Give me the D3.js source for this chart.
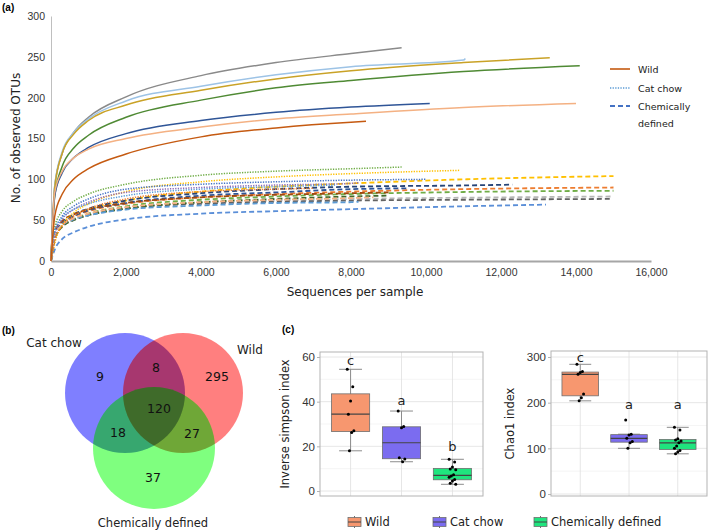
<!DOCTYPE html>
<html>
<head>
<meta charset="utf-8">
<script src="https://cdn.jsdelivr.net/npm/d3@7"></script>
<style>
body { margin: 0; background: #fff; }
svg { font-family: "DejaVu Sans", Verdana, sans-serif; }
</style>
</head>
<body>
<svg id="fig" width="709" height="532"></svg>
<script>
// ---- panel (a): rarefaction curves ----
const depths = [0, 100, 300, 600, 1000, 2000, 4000, 6000, 8000, 11000];
const xTicks = [0, 2000, 4000, 6000, 8000, 10000, 12000, 14000, 16000];
const yTicks = [0, 50, 100, 150, 200, 250, 300];

// y = observed OTUs at each depth below `end`, last value is at `end`
const wildCurves = [
    { color: "#8a8a8a", end: 9350,  y: [0, 92, 132, 157, 176, 201, 227, 243, 254, 261] },
    { color: "#9dc3e6", end: 11050, y: [0, 92, 134, 157, 174, 196, 214, 228, 238, 246, 248] },
    { color: "#c9a227", end: 13300, y: [0, 90, 132, 155, 172, 191, 209, 223, 233, 243, 249] },
    { color: "#4f8a34", end: 14100, y: [0, 80, 116, 138, 154, 176, 197, 212, 221, 232, 239] },
    { color: "#2f5597", end: 10100, y: [0, 80, 108, 126, 139, 156, 172, 182, 188.5, 193] },
    { color: "#f4b183", end: 14000, y: [0, 84, 110, 126, 137, 150, 164, 174, 180, 188, 193] },
    { color: "#c55a11", end: 8400,  y: [0, 55, 82, 100, 113, 131, 152, 163, 170, 171] }
];
const catCurves = [
    { color: "#70ad47", end: 9350,  y: [0, 42, 61, 73, 82, 94, 105, 110, 113, 115] },
    { color: "#ffc000", end: 10900, y: [0, 22, 44, 59, 70, 85, 97, 103, 107, 111] },
    { color: "#4472c4", end: 10000, y: [0, 36, 55, 67, 76, 88, 94, 97, 99, 100] },
    { color: "#8e6bb8", end: 8200,  y: [0, 32, 51, 63, 72, 84, 90, 93, 95, 96] },
    { color: "#5b9bd5", end: 7600,  y: [0, 37, 53, 63, 70, 80, 88, 91, 93] },
    { color: "#ed7d31", end: 7000,  y: [0, 24, 43, 55, 64, 76, 85, 88, 89] }
];
const chemCurves = [
    { color: "#ffc000", end: 15000, y: [0, 26, 44, 55, 63, 74, 85, 91, 95, 100, 104] },
    { color: "#264478", end: 12300, y: [0, 31, 47, 57, 64, 74, 83, 88, 91, 92.5, 93.5] },
    { color: "#ed7d31", end: 15000, y: [0, 31, 45, 54, 61, 70, 78, 82, 85, 88, 90] },
    { color: "#70ad47", end: 15000, y: [0, 28, 42, 51, 58, 67, 75, 79, 82, 84.5, 86] },
    { color: "#b7b7b7", end: 15000, y: [0, 29, 42, 50, 56, 64, 71, 74, 76, 77.5, 79] },
    { color: "#636363", end: 14900, y: [0, 30, 43, 51, 57, 65, 70, 72.5, 74, 75, 76] },
    { color: "#5b8fd8", end: 13200, y: [0, 14, 27, 35, 42, 51, 58, 61, 63.5, 67, 69] },
    { color: "#2f5597", end: 9500,  y: [0, 32, 46, 55, 62, 71, 80, 84, 88, 89] },
    { color: "#9e480e", end: 9000,  y: [0, 36, 49, 57, 63, 71, 78, 81, 83, 84] },
    { color: "#43682b", end: 9000,  y: [0, 29, 42, 50, 56, 64, 72, 76, 79, 80] },
    { color: "#5b9bd5", end: 8200,  y: [0, 33, 44, 51, 56, 63, 68, 71, 72, 72.5] },
    { color: "#f4b183", end: 8600,  y: [0, 31, 44, 52, 58, 66, 72, 75, 77, 78] }
];
const curveLegend = ["Wild", "Cat chow", "Chemically defined"];

// ---- panel (b): venn ----
const vennSets = ["Cat chow", "Wild", "Chemically defined"];
const vennCounts = [9, 8, 295, 120, 18, 27, 37];

// ---- panel (c): boxplots ----
const groups = ["Wild", "Cat chow", "Chemically defined"];
const simpsonWild = [54.5, 46.7, 40.3, 34.4, 27.0, 26.2, 18.0];
const simpsonCat = [35.8, 28.9, 28.3, 14.9, 14.3, 13.1];
const simpsonChem = [14.2, 13.0, 10.8, 9.9, 9.5, 7.3, 6.7, 6.2, 5.2, 4.5, 3.5, 3.0];
const simpsonLetters = ["c", "a", "b"];
const simpsonLetterY = [58.5, 40.5, 20];
const simpsonTicks = [0, 20, 40, 60];
const chaoWild = [284, 268, 266, 262, 219, 211, 204];
const chaoCat = [162, 131, 129, 122, 115, 112, 100];
const chaoChem = [146, 140, 121, 118, 116, 112, 105, 100, 95, 92, 88];
const chaoLetters = ["c", "a", "a"];
const chaoLetterY = [299, 197, 197];
const chaoTicks = [0, 100, 200, 300];

const svg = d3.select("#fig");

// panel labels
[["(a)", 2, 11], ["(b)", 2, 334], ["(c)", 282, 333]].forEach(p => {
    svg.append("text").attr("x", p[1]).attr("y", p[2])
        .attr("font-family", "Liberation Sans, Arial, sans-serif")
        .attr("font-weight", "bold").attr("font-size", 10).text(p[0]);
});

// ================= (a) =================
const xA = d3.scaleLinear().domain([0, 16000]).range([51, 651]);
const yA = d3.scaleLinear().domain([0, 300]).range([261, 16]);

const yAxisA = svg.append("g").attr("transform", "translate(51,0)")
    .call(d3.axisLeft(yA).tickValues(yTicks).tickSize(0).tickPadding(6));
yAxisA.select(".domain").attr("stroke", "#bfbfbf").attr("stroke-width", 1);
yAxisA.selectAll("text").attr("font-size", 10.5).attr("fill", "#333").attr("font-family", null);

const xAxisA = svg.append("g").attr("transform", "translate(0,261)")
    .call(d3.axisBottom(xA).tickValues(xTicks).tickSize(0).tickPadding(8).tickFormat(d3.format(",")));
xAxisA.select(".domain").attr("stroke", "#a6a6a6").attr("stroke-width", 2);
xAxisA.selectAll("text").attr("font-size", 10.5).attr("fill", "#333").attr("font-family", null);

svg.append("text").attr("x", 355).attr("y", 296).attr("text-anchor", "middle")
    .attr("font-size", 12).attr("fill", "#222").text("Sequences per sample");
svg.append("text").attr("transform", "translate(20,138) rotate(-90)").attr("text-anchor", "middle")
    .attr("font-size", 12).attr("fill", "#222").text("No. of observed OTUs");

const line = d3.line().x(d => xA(d[0])).y(d => yA(d[1])).curve(d3.curveMonotoneX);
function curvePoints(c) {
    const xs = depths.filter(d => d < c.end).concat(c.end);
    return xs.map((x, i) => [x, c.y[i]]);
}
const curveGroups = [
    { list: chemCurves, dash: "5,3", width: 1.8 },
    { list: catCurves, dash: "1.3,1.3", width: 1.5 },
    { list: wildCurves, dash: null, width: 1.5 }
];
curveGroups.forEach(g => {
    svg.append("g").selectAll("path").data(g.list).enter().append("path")
        .attr("d", c => line(curvePoints(c)))
        .attr("fill", "none")
        .attr("stroke", c => c.color)
        .attr("stroke-width", g.width)
        .attr("stroke-dasharray", g.dash);
});

// legend (a)
const legA = [
    { color: "#c55a11", dash: null, width: 1.6 },
    { color: "#5b9bd5", dash: "1.3,1.3", width: 1.5 },
    { color: "#4472c4", dash: "5,3", width: 1.8 }
];
const legAY = [69, 88, 106];
legA.forEach((l, i) => {
    svg.append("line").attr("x1", 610).attr("x2", 630).attr("y1", legAY[i]).attr("y2", legAY[i])
        .attr("stroke", l.color).attr("stroke-width", l.width).attr("stroke-dasharray", l.dash);
});
svg.append("text").attr("x", 638).attr("y", 72.5).attr("font-size", 9.5).attr("fill", "#222").text(curveLegend[0]);
svg.append("text").attr("x", 638).attr("y", 91.5).attr("font-size", 9.5).attr("fill", "#222").text(curveLegend[1]);
svg.append("text").attr("x", 638).attr("y", 109.5).attr("font-size", 9.5).attr("fill", "#222").text("Chemically");
svg.append("text").attr("x", 638).attr("y", 126.5).attr("font-size", 9.5).attr("fill", "#222").text("defined");

// ================= (b) =================
const vennCircles = [
    { cx: 125, cy: 393, r: 60, color: "#0000ff" },
    { cx: 183, cy: 393, r: 60, color: "#ff0000" },
    { cx: 154, cy: 448, r: 61, color: "#00ff00" }
];
const defs = svg.append("defs");
vennCircles.forEach((c, i) => {
    defs.append("clipPath").attr("id", "vc" + i)
        .append("circle").attr("cx", c.cx).attr("cy", c.cy).attr("r", c.r);
});
svg.append("g").selectAll("circle").data(vennCircles).enter().append("circle")
    .attr("cx", d => d.cx).attr("cy", d => d.cy).attr("r", d => d.r)
    .attr("fill", d => d.color).attr("fill-opacity", 0.5);
// darken the overlaps a little
[[0, 1], [0, 2], [1, 2]].forEach(p => {
    const c = vennCircles[p[1]];
    svg.append("circle").attr("clip-path", `url(#vc${p[0]})`)
        .attr("cx", c.cx).attr("cy", c.cy).attr("r", c.r)
        .attr("fill", "#000").attr("fill-opacity", 0.12);
});
const vennPos = [[100, 376], [156, 367], [217, 376], [159, 408], [118, 432], [192, 433], [153, 477]];
svg.append("g").selectAll("text").data(vennCounts).enter().append("text")
    .attr("x", (d, i) => vennPos[i][0]).attr("y", (d, i) => vennPos[i][1])
    .attr("dy", "0.36em").attr("text-anchor", "middle")
    .attr("font-size", 12.5).attr("fill", "#111").text(d => d);
svg.append("text").attr("x", 54).attr("y", 347).attr("text-anchor", "middle")
    .attr("font-size", 12).attr("fill", "#222").text(vennSets[0]);
svg.append("text").attr("x", 237).attr("y", 354).attr("text-anchor", "start")
    .attr("font-size", 12).attr("fill", "#222").text(vennSets[1]);
svg.append("text").attr("x", 153).attr("y", 527).attr("text-anchor", "middle")
    .attr("font-size", 11.5).attr("fill", "#222").text(vennSets[2]);

// ================= (c) =================
const boxFill = ["#f7976f", "#7b6cf0", "#1fe57e"];

function boxPanel(o) {
    const g = svg.append("g");
    const x = d3.scalePoint().domain(groups).range([o.x0, o.x1]).padding(0.6);
    const y = d3.scaleLinear().domain(o.yDomain).range(o.yRange);
    const step = x.step();

    // grid
    const minor = o.ticks.slice(0, -1).map((t, i) => (t + o.ticks[i + 1]) / 2);
    g.selectAll(".minor").data(minor).enter().append("line")
        .attr("x1", o.x0).attr("x2", o.x1).attr("y1", d => y(d)).attr("y2", d => y(d))
        .attr("stroke", "#efefef").attr("stroke-width", 0.6);
    g.selectAll(".major").data(o.ticks).enter().append("line")
        .attr("x1", o.x0).attr("x2", o.x1).attr("y1", d => y(d)).attr("y2", d => y(d))
        .attr("stroke", "#e0e0e0").attr("stroke-width", 0.8);
    g.selectAll(".vmajor").data(groups).enter().append("line")
        .attr("x1", d => x(d)).attr("x2", d => x(d)).attr("y1", o.yTop).attr("y2", o.yBottom)
        .attr("stroke", "#e0e0e0").attr("stroke-width", 0.8);

    // y axis
    const ax = g.append("g").attr("transform", `translate(${o.x0},0)`)
        .call(d3.axisLeft(y).tickValues(o.ticks).tickSize(3).tickPadding(2));
    ax.select(".domain").remove();
    ax.selectAll("line").attr("stroke", "#b3b3b3");
    ax.selectAll("text").attr("font-size", 11.5).attr("fill", "#333").attr("font-family", null);
    g.append("text").attr("transform", `translate(${o.titleX},${(o.yTop + o.yBottom) / 2}) rotate(-90)`)
        .attr("text-anchor", "middle").attr("font-size", 11.5).attr("fill", "#222").text(o.title);

    o.data.forEach((vals, gi) => {
        const s = vals.slice().sort(d3.ascending);
        const q1 = d3.quantile(s, 0.25), med = d3.quantile(s, 0.5), q3 = d3.quantile(s, 0.75);
        const iqr = q3 - q1;
        const lo = d3.min(s.filter(v => v >= q1 - 1.5 * iqr));
        const hi = d3.max(s.filter(v => v <= q3 + 1.5 * iqr));
        const cx = x(groups[gi]);
        const bw = step * 0.75, cw = step * 0.45;
        // whiskers (error bar)
        g.append("line").attr("x1", cx).attr("x2", cx).attr("y1", y(lo)).attr("y2", y(hi))
            .attr("stroke", "#8c8c8c").attr("stroke-width", 1);
        [lo, hi].forEach(v => g.append("line").attr("x1", cx - cw / 2).attr("x2", cx + cw / 2)
            .attr("y1", y(v)).attr("y2", y(v)).attr("stroke", "#8c8c8c").attr("stroke-width", 1));
        g.append("rect").attr("x", cx - bw / 2).attr("width", bw)
            .attr("y", y(q3)).attr("height", y(q1) - y(q3))
            .attr("fill", boxFill[gi]).attr("stroke", "#6f6f6f").attr("stroke-width", 0.8);
        g.append("line").attr("x1", cx - bw / 2).attr("x2", cx + bw / 2)
            .attr("y1", y(med)).attr("y2", y(med)).attr("stroke", "#444").attr("stroke-width", 1.2);
        // jittered points
        g.selectAll(null).data(vals).enter().append("circle")
            .attr("cx", (d, i) => cx + ((i * 5) % 7 - 3) * 1.1)
            .attr("cy", d => y(d)).attr("r", 1.5).attr("fill", "#000");
        g.append("text").attr("x", cx).attr("y", y(o.letterY[gi])).attr("dy", "0.36em")
            .attr("text-anchor", "middle").attr("font-size", 13).attr("fill", "#222").text(o.letters[gi]);
    });

    g.append("rect").attr("x", o.x0).attr("y", o.yTop).attr("width", o.x1 - o.x0).attr("height", o.yBottom - o.yTop)
        .attr("fill", "none").attr("stroke", "#b3b3b3").attr("stroke-width", 1);
}

boxPanel({
    x0: 320, x1: 483, yTop: 352, yBottom: 496, yDomain: [0, 60], yRange: [491, 357],
    ticks: simpsonTicks, title: "Inverse simpson index", titleX: 289,
    data: [simpsonWild, simpsonCat, simpsonChem], letters: simpsonLetters, letterY: simpsonLetterY
});
boxPanel({
    x0: 551, x1: 707, yTop: 351, yBottom: 496, yDomain: [0, 300], yRange: [494, 357],
    ticks: chaoTicks, title: "Chao1 index", titleX: 514,
    data: [chaoWild, chaoCat, chaoChem], letters: chaoLetters, letterY: chaoLetterY
});

// legend (c)
const legX = [348, 433, 534];
groups.forEach((name, i) => {
    const lx = legX[i];
    svg.append("line").attr("x1", lx + 6.5).attr("x2", lx + 6.5).attr("y1", 516).attr("y2", 528)
        .attr("stroke", "#6f6f6f").attr("stroke-width", 1);
    svg.append("rect").attr("x", lx).attr("y", 517.5).attr("width", 13).attr("height", 9)
        .attr("fill", boxFill[i]).attr("stroke", "#6f6f6f").attr("stroke-width", 0.8);
    svg.append("line").attr("x1", lx).attr("x2", lx + 13).attr("y1", 522).attr("y2", 522)
        .attr("stroke", "#444").attr("stroke-width", 1);
    svg.append("text").attr("x", lx + 17).attr("y", 522).attr("dy", "0.36em")
        .attr("font-size", 11.5).attr("fill", "#222").text(name);
});
</script>
</body>
</html>
